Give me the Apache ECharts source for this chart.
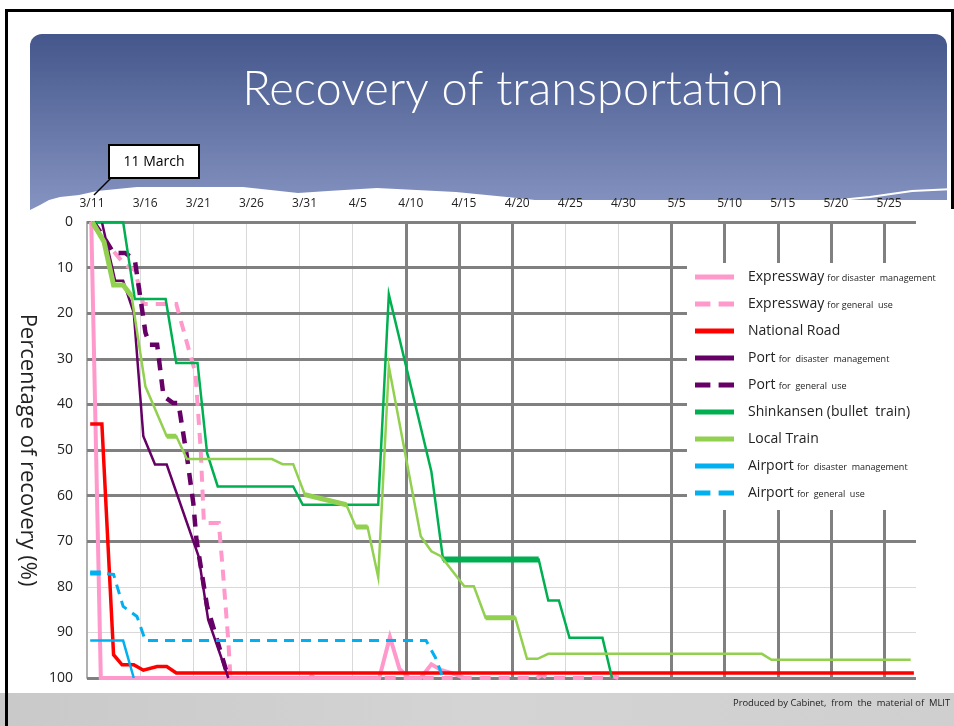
<!DOCTYPE html>
<html><head><meta charset="utf-8">
<script src="https://cdn.jsdelivr.net/npm/echarts@6/dist/echarts.min.js"></script>
<style>html,body{margin:0;padding:0;background:#fff;}#c{width:954px;height:726px;}</style>
</head><body><div id="c"></div>
<script>
// x = days since 11 March, y = percentage (0 at top, 100 at bottom)
const xTickLabels = ['3/11','3/16','3/21','3/26','3/31','4/5','4/10','4/15','4/20','4/25','4/30','5/5','5/10','5/15','5/20','5/25'];
const yTickValues = [0,10,20,30,40,50,60,70,80,90,100];
const thickYLines = [0,10,20,30,40,50,60,70,100];
const thickXLines = [30,35,40,55,60,65,70,75];

const seriesNames = [
  'Expressway for disaster management','Expressway for general use','National Road',
  'Port for disaster management','Port for general use','Shinkansen (bullet  train)',
  'Local Train','Airport for disaster management','Airport for general use'
];
const legendMain = ['Expressway','Expressway','National Road','Port','Port','Shinkansen (bullet  train)','Local Train','Airport','Airport'];
const legendSub = ['for disaster  management','for general  use','','for  disaster  management','for  general  use','','','for  disaster  management','for  general  use'];
const legendDashed = [false,true,false,false,true,false,false,false,true];

const expresswayDisaster = [[0.4,0],[1.3,100],[27.5,100],[28.5,91],[29.4,98],[30.3,100],[31.4,100],[32.4,97],[33.3,98.2],[34.4,99],[35.5,100]];
const expresswayGeneral = [[0.3,0],[2,5],[3.6,9.5],[4.5,10.5],[5.3,18],[8.4,18],[9.7,29],[10.2,33],[10.7,50],[11.0,66],[12.4,66],[12.8,77],[13.3,92],[13.5,100],[20.3,100],[20.8,99],[21.4,100],[42.3,100],[42.8,99.3],[43.3,100],[48.7,100],[49.1,99.3],[50,100]];
const nationalRoad = [[0.3,44.3],[1.4,44.3],[2.5,94.9],[3.3,97.1],[4.4,97.1],[5.3,98.3],[6.6,97.5],[7.5,97.5],[8.4,98.9],[77.8,98.9]];
const portDisaster = [[1.4,0],[2.65,12.9],[3.4,12.9],[4.4,19.9],[5.3,47],[6.4,53.2],[7.5,53.2],[10.5,73.3],[11.4,87.2],[13.3,100]];
const portGeneral = [[0.6,0],[1.5,3],[2.5,6.8],[3.6,6.8],[4.5,8.3],[5.5,24.3],[5.9,26.9],[6.6,26.9],[7.2,38.2],[8.1,39.7],[8.6,39.7],[9.4,51.4],[10.0,61.6],[10.3,69.7],[11.3,84.3],[13.3,100]];
const shinkansen = [[0.8,0],[3.4,0],[4.5,16.9],[7.4,16.9],[8.4,30.9],[10.4,30.9],[11.3,50.7],[12.3,58],[19.4,58],[20.3,62],[27.4,62],[28.4,15.9],[32.4,54.7],[33.5,74],[42.5,74],[43.4,83],[44.4,83],[45.4,91.2],[48.5,91.2],[49.4,100]];
const shinkansenThick = [[33.5,74],[42.5,74]];
const localTrain = [[0.5,0],[1.6,4.3],[2.5,13.8],[3.4,13.8],[4.2,16.3],[5.5,36.1],[7.5,47],[8.4,47],[9.4,52],[17.4,52],[18.4,53.1],[19.4,53.1],[20.5,59.8],[24.4,62],[25.3,66.9],[26.4,66.9],[27.4,77.9],[28.4,31.7],[31.4,68.9],[32.4,72.2],[33.3,73.3],[35.5,79.9],[36.4,79.9],[37.5,86.8],[40.3,86.8],[41.4,95.8],[42.4,95.8],[43.4,94.7],[63.5,94.7],[64.4,96],[77.5,96]];
const localTrainThick = [[0.5,0],[1.6,4.3],[2.5,13.8],[3.4,13.8],[4.2,16.3],[5,'-'],[7.5,47],[8.4,47],[9,'-'],[20.5,59.8],[24.4,62],[24.8,'-'],[25.3,66.9],[26.4,66.9],[27,'-'],[37.5,86.8],[40.3,86.8]];
const airportDisaster = [[0.3,91.8],[3.4,91.8],[4.4,100]];
const airportGeneral = [[0.3,77],[1.4,77],[2.5,77.3],[3.4,84.3],[4.7,86.5],[5.5,91.8],[31.9,91.8],[32.8,95.6],[33.5,100]];
const airportGeneralThick = [[0.3,77],[1.3,77]];

const PINK='#ff99cc', RED='#ff0000', PURPLE='#660066', GREEN='#00b050', LGREEN='#92d050', CYAN='#00b0f0';
const FONT = 'Open Sans';
const ICON_SOLID = 'path://M0,0H39V5H0Z';
const ICON_DASH = 'path://M0,0H15V5H0ZM23,0H38V5H23Z';

const chart = echarts.init(document.getElementById('c'), null, {renderer:'canvas'});

function line(name, data, color, width, type, extra) {
  return Object.assign({
    name: name, type: 'line', data: data, symbol: 'none', z: 3,
    lineStyle: {color: color, width: width, type: type || 'solid', cap: 'butt', join: 'miter'},
    itemStyle: {color: color}, silent: true, animation: false
  }, extra || {});
}

const series = [
  {
    type: 'line', data: [], z: 1, silent: true, animation: false,
    markLine: {
      silent: true, symbol: ['none','none'], label: {show: false}, z: 1, animation: false,
      lineStyle: {color: '#808080', width: 3, type: 'solid'},
      data: thickYLines.map(v => ({yAxis: v})).concat(thickXLines.map(v => ({xAxis: v})))
    }
  },
  line(seriesNames[0], expresswayDisaster, PINK, 4),
  line(seriesNames[1], expresswayGeneral, PINK, 4, [11, 8]),
  line(seriesNames[2], nationalRoad, RED, 3.5),
  line(seriesNames[3], portDisaster, PURPLE, 2.5),
  line(seriesNames[4], portGeneral, PURPLE, 4.5, [12, 9]),
  line(seriesNames[5], shinkansen, GREEN, 2.5),
  line(seriesNames[5], shinkansenThick, GREEN, 6),
  line(seriesNames[6], localTrain, LGREEN, 2.5),
  line(seriesNames[6], localTrainThick, LGREEN, 5),
  line(seriesNames[7], airportDisaster, CYAN, 2.5),
  line(seriesNames[8], airportGeneral, CYAN, 3, [10, 7]),
  line(seriesNames[8], airportGeneralThick, CYAN, 5)
];

const option = {
  backgroundColor: '#fff',
  animation: false,
  grid: {left: 87, right: 38, top: 222, bottom: 48, containLabel: false},
  xAxis: {
    type: 'value', min: 0, max: 78, interval: 5, position: 'top',
    axisLine: {show: false}, axisTick: {show: false},
    axisLabel: {
      margin: 12, color: '#222', fontSize: 12, fontFamily: FONT, padding: [0,0,0,10],
      showMaxLabel: false,
      formatter: v => (v % 5 === 0 && xTickLabels[v / 5]) ? xTickLabels[v / 5] : ''
    },
    splitLine: {show: true, showMaxLine: false, lineStyle: {color: '#d9d9d9', width: 1}}
  },
  yAxis: {
    type: 'value', min: 0, max: 100, interval: 10, inverse: true,
    name: 'Percentage of recovery (%)', nameLocation: 'middle', nameRotate: -90, nameGap: 42,
    nameTextStyle: {fontSize: 22, color: '#222', fontFamily: FONT},
    axisLine: {show: true, onZero: false, lineStyle: {color: '#b0b0b0', width: 2}},
    axisTick: {show: false},
    axisLabel: {margin: 14, color: '#222', fontSize: 14, fontFamily: FONT,
      formatter: v => yTickValues.indexOf(v) >= 0 ? String(v) : ''},
    splitLine: {show: true, lineStyle: {color: '#d9d9d9', width: 1}}
  },
  legend: {
    show: true, orient: 'vertical', left: 687, top: 263, z: 5,
    padding: [7, 4, 7, 8], itemWidth: 39, itemHeight: 5, itemGap: 13,
    symbolKeepAspect: false,
    data: seriesNames.map((n, i) => ({name: n, icon: legendDashed[i] ? ICON_DASH : ICON_SOLID})),
    selectedMode: false,
    textStyle: {
      color: '#222', fontFamily: FONT, padding: [0, 0, 0, 9],
      rich: {
        m: {fontSize: 14, color: '#222', fontFamily: FONT, lineHeight: 19},
        s: {fontSize: 9, color: '#222', fontFamily: FONT, padding: [3, 0, 0, 0], lineHeight: 19}
      }
    },
    formatter: name => {
      const i = seriesNames.indexOf(name);
      return '{m|' + legendMain[i] + '}' + (legendSub[i] ? ' {s|' + legendSub[i] + '}' : '');
    }
  },
  graphic: [
    {type: 'rect', z: -10, shape: {x: 30, y: 34, width: 917, height: 200, r: [12, 12, 0, 0]},
      style: {fill: new echarts.graphic.LinearGradient(0, 0, 0, 1, [
        {offset: 0, color: '#44568b'}, {offset: 1, color: '#8e9cc8'}])}},
    {type: 'polygon', z: -9, shape: {points: [[30,693],[30,210],[40,205],[49,200],[60,197],[79,195],[97,191],[137,187],[243,187],[298,193],[328,191],[377,188],[456,192],[517,198],[535,200],[954,200],[954,693]]},
      style: {fill: '#ffffff'}},
    {type: 'polyline', z: -8, shape: {points: [[840,200],[870,197],[912,191],[954,189]]},
      style: {stroke: '#ffffff', lineWidth: 2, fill: null}},
    {type: 'rect', z: -9, shape: {x: 0, y: 693, width: 954, height: 33},
      style: {fill: new echarts.graphic.LinearGradient(0, 0, 1, 0, [
        {offset: 0, color: '#c9c9c9'}, {offset: 0.5, color: '#d4d4d4'}, {offset: 1, color: '#cfcfcf'}])}},
    {type: 'rect', z: -8, shape: {x: 5, y: 9, width: 949, height: 3}, style: {fill: '#000'}},
    {type: 'rect', z: -8, shape: {x: 5, y: 9, width: 3, height: 717}, style: {fill: '#000'}},
    {type: 'rect', z: -8, shape: {x: 951, y: 9, width: 3, height: 200}, style: {fill: '#000'}},
    {type: 'text', z: -7, x: 513, y: 90,
      style: {text: 'Recovery of transportation', fill: '#ffffff', font: '300 47px Lato',
        textAlign: 'center', textVerticalAlign: 'middle'}},
    {type: 'line', z: -7, shape: {x1: 111, y1: 178, x2: 94, y2: 195}, style: {stroke: '#000', lineWidth: 1.5}},
    {type: 'rect', z: -7, shape: {x: 109, y: 145, width: 90, height: 33}, style: {fill: '#fff', stroke: '#000', lineWidth: 2}},
    {type: 'text', z: -6, x: 154, y: 162,
      style: {text: '11 March', fill: '#000', font: '14px "Open Sans"', textAlign: 'center', textVerticalAlign: 'middle'}},
    {type: 'rect', z: 3, shape: {x: 687, y: 263, width: 267, height: 247}, style: {fill: '#fff'}},
    {type: 'text', z: -6, x: 733, y: 703,
      style: {text: 'Produced by Cabinet,  from  the  material of  MLIT', fill: '#222', font: '9.4px "Open Sans"',
        textAlign: 'left', textVerticalAlign: 'middle'}}
  ],
  series: series
};
chart.setOption(option);
</script>
</body></html>
